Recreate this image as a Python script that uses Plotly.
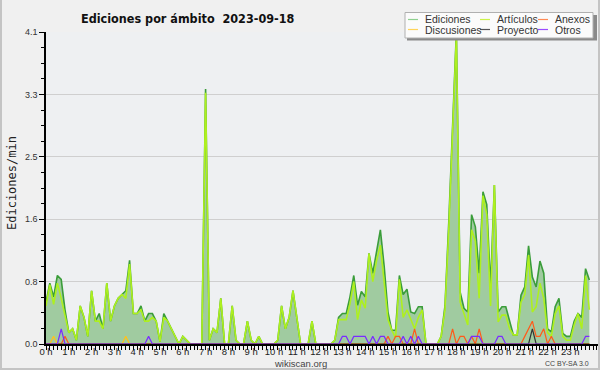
import plotly.graph_objects as go

# time of each 10-minute bin, in minutes after midnight
minutes = list(range(0, 1440, 10))
hours = [m / 60 for m in minutes]

ediciones = [0.55, 0.8, 0.62, 0.9, 0.85, 0.45, 0.15, 0.2, 0.05, 0.5, 0.35, 0.1,
             0.7, 0.3, 0.4, 0.2, 0.8, 0.3, 0.5, 0.6, 0.65, 0.7, 1.1, 0.4,
             0.4, 0.5, 0.3, 0.4, 0.4, 0.3, 0.03, 0.4, 0.3, 0.2, 0.1, 0.0,
             0.1, 0.05, 0, 0, 0, 0, 3.35, 0.05, 0.2, 0.15, 0.6, 0.0,
             0.0, 0.5, 0.05, 0, 0, 0.3, 0.05, 0, 0.1, 0, 0, 0,
             0, 0.05, 0.5, 0.2, 0.35, 0.7, 0.35, 0, 0, 0, 0.3, 0,
             0, 0, 0, 0, 0.05, 0.35, 0.4, 0.4, 0.62, 0.9, 0.51, 0.69,
             0.62, 1.19, 0.93, 1.19, 1.5, 1.02, 0.42, 0.18, 0.18, 0.9, 0.65, 0.72,
             0.42, 0.4, 0.49, 0.49, 0, 0, 0, 0, 0.1, 0.5, 1.6, 2.9,
             4.1, 0.68, 0.47, 0.42, 1.7, 1.54, 0.93, 2.0, 1.83, 0.75, 2.09, 0.42,
             0.49, 0.49, 0.29, 0.12, 0.12, 0.64, 0.75, 1.29, 0.88, 0.75, 1.09, 0.93,
             0.2, 0.16, 0.49, 0.6, 0.14, 0.1, 0.1, 0.3, 0.4, 0.35, 0.99, 0.84]

articulos = [0.5, 0.78, 0.52, 0.8, 0.6, 0.35, 0.15, 0.2, 0.05, 0.5, 0.35, 0.1,
             0.7, 0.3, 0.3, 0.2, 0.8, 0.3, 0.5, 0.6, 0.65, 0.6, 1.05, 0.4,
             0.4, 0.45, 0.3, 0.3, 0.35, 0.3, 0.03, 0.35, 0.3, 0.2, 0.1, 0.0,
             0.1, 0.05, 0, 0, 0, 0, 3.3, 0.05, 0.2, 0.15, 0.6, 0.0,
             0.0, 0.5, 0.05, 0, 0, 0.3, 0.05, 0, 0.1, 0, 0, 0,
             0, 0.05, 0.5, 0.2, 0.35, 0.7, 0.35, 0, 0, 0, 0.3, 0,
             0, 0, 0, 0, 0.05, 0.32, 0.32, 0.32, 0.53, 0.82, 0.32, 0.58,
             0.47, 1.19, 0.82, 1.1, 1.3, 0.84, 0.32, 0.18, 0.08, 0.85, 0.35, 0.45,
             0.32, 0.2, 0.35, 0.45, 0, 0, 0, 0, 0.1, 0.45, 1.5, 2.8,
             4.05, 0.55, 0.4, 0.25, 1.5, 1.35, 0.6, 1.95, 1.7, 0.5, 2.09, 0.29,
             0.38, 0.38, 0.2, 0.12, 0.12, 0.55, 0.65, 1.17, 0.42, 0.49, 0.8, 0.6,
             0.15, 0.1, 0.4, 0.5, 0.1, 0.05, 0.05, 0.25, 0.4, 0.2, 0.9, 0.45]

discusiones = [0.0] * 144
for k, v in {2: 0.1, 21: 0.1}.items():
    discusiones[k] = v

anexos = [0.0] * 144
for k, v in {5: 0.1, 90: 0.1, 92: 0.1, 93: 0.1, 97: 0.2, 107: 0.2, 109: 0.1,
             110: 0.1, 112: 0.1, 114: 0.2, 126: 0.1, 127: 0.2, 128: 0.3,
             129: 0.1, 130: 0.1, 131: 0.2, 133: 0.1}.items():
    anexos[k] = v

proyecto = [0.0] * 144
for k, v in {128: 0.2}.items():
    proyecto[k] = v

otros = [0.0] * 144
for k, v in {4: 0.2, 27: 0.1, 78: 0.1, 79: 0.1, 81: 0.1, 82: 0.1, 83: 0.1,
             84: 0.1, 86: 0.1, 88: 0.1, 89: 0.1, 94: 0.1, 96: 0.1, 98: 0.1,
             112: 0.1, 113: 0.1, 114: 0.1, 119: 0.1, 120: 0.1, 142: 0.1,
             143: 0.1}.items():
    otros[k] = v

hour_ticks = list(range(24))
hour_labels = [f"{h} h" for h in hour_ticks]
y_ticks = [0, 0.82, 1.64, 2.46, 3.28, 4.1]
y_labels = ["0.0", "0.8", "1.6", "2.5", "3.3", "4.1"]

series_names = ["Ediciones", "Artículos", "Anexos", "Discusiones", "Proyecto", "Otros"]
legend_colors = ["#8fd08f", "#ccf24a", "#ff8a55", "#ffd45a", "#555555", "#9a4cff"]

W, H = 600, 370
L, R, T, B = 46, 0, 32, 26
PW, PH = W - L - R, H - T - B


def px(x):
    return (x - L) / PW


def py(y):
    return (H - B - y) / PH


fig = go.Figure()
fig.add_trace(go.Scatter(x=hours, y=ediciones, mode="lines", name="Ediciones",
                         line=dict(color="#3a9d3a", width=1.6),
                         fill="tozeroy", fillcolor="#a0cba0"))
fig.add_trace(go.Scatter(x=hours, y=articulos, mode="lines", name="Artículos",
                         line=dict(color="#aef01e", width=1.6)))
fig.add_trace(go.Scatter(x=hours, y=discusiones, mode="lines", name="Discusiones",
                         line=dict(color="#ffc21a", width=1.2)))
fig.add_trace(go.Scatter(x=hours, y=anexos, mode="lines", name="Anexos",
                         line=dict(color="#ff5a1a", width=1.2)))
fig.add_trace(go.Scatter(x=hours, y=proyecto, mode="lines", name="Proyecto",
                         line=dict(color="#333333", width=1.2)))
fig.add_trace(go.Scatter(x=hours, y=otros, mode="lines", name="Otros",
                         line=dict(color="#7a2cff", width=1.2)))

shapes = []
annotations = []

# legend box with shadow
shapes.append(dict(type="rect", xref="paper", yref="paper",
                   x0=px(407), x1=px(597), y0=py(40.5), y1=py(15),
                   fillcolor="#8a8a8a", line=dict(width=0), layer="above"))
shapes.append(dict(type="rect", xref="paper", yref="paper",
                   x0=px(405), x1=px(593), y0=py(38), y1=py(12.5),
                   fillcolor="#fbfbfb", line=dict(color="#b0b0b0", width=1),
                   layer="above"))
legend_pos = [(408, 19.5), (480, 19.5), (538, 19.5),
              (408, 29.5), (480, 29.5), (538, 29.5)]
for name, col, (lx, ly) in zip(series_names, legend_colors, legend_pos):
    shapes.append(dict(type="line", xref="paper", yref="paper",
                       x0=px(lx), x1=px(lx + 10), y0=py(ly), y1=py(ly),
                       line=dict(color=col, width=1.2), layer="above"))
    annotations.append(dict(x=px(lx + 15), y=py(ly), xref="paper", yref="paper",
                            text=name, showarrow=False, xanchor="left",
                            yanchor="middle",
                            font=dict(family="Liberation Sans", size=10.5, color="#333333")))

# outer border (left, bottom, right)
for x0, y0, x1, y1 in [(1, 0, 1, 369), (0, 369, 600, 369), (599, 0, 599, 369)]:
    shapes.append(dict(type="line", xref="paper", yref="paper",
                       x0=px(x0), x1=px(x1), y0=py(y0), y1=py(y1),
                       line=dict(color="#c4c4c4", width=2), layer="above"))

annotations.append(dict(x=px(188), y=py(19), xref="paper", yref="paper",
                        text="<b>Ediciones por ámbito  2023-09-18</b>", showarrow=False,
                        xanchor="center", yanchor="middle",
                        font=dict(family="DejaVu Sans Condensed", size=12.5, color="#111111")))
annotations.append(dict(x=px(12), y=py(183), xref="paper", yref="paper",
                        text="Ediciones/min", showarrow=False, textangle=-90,
                        xanchor="center", yanchor="middle",
                        font=dict(family="DejaVu Sans Mono", size=12, color="#222222")))
annotations.append(dict(x=px(300), y=py(363.5), xref="paper", yref="paper",
                        text="wikiscan.org", showarrow=False,
                        xanchor="center", yanchor="middle",
                        font=dict(family="Liberation Sans", size=9.5, color="#444444")))
annotations.append(dict(x=px(591), y=py(363.5), xref="paper", yref="paper",
                        text="CC BY-SA 3.0", showarrow=False,
                        xanchor="right", yanchor="middle",
                        font=dict(family="Liberation Sans", size=7, color="#444444")))

fig.update_layout(
    width=W, height=H,
    margin=dict(l=L, r=R, t=T, b=B, pad=0),
    paper_bgcolor="#f0f0f0",
    plot_bgcolor="#eef0f2",
    showlegend=False,
    shapes=shapes,
    annotations=annotations,
    xaxis=dict(range=[0, 24.3], tickvals=hour_ticks, ticktext=hour_labels,
               tickangle=0, ticklabelstandoff=-6,
               ticks="outside", ticklen=4, tickwidth=1, tickcolor="#000000",
               showline=True, linecolor="#000000", linewidth=2,
               showgrid=False, zeroline=False,
               tickfont=dict(family="Liberation Sans", size=9.5, color="#222222"),
               minor=dict(dtick=1 / 6, tick0=0, ticks="outside", ticklen=4,
                          tickwidth=1, tickcolor="#000000", showgrid=False)),
    yaxis=dict(range=[0, 4.1], tickvals=y_ticks, ticktext=y_labels,
               ticks="outside", ticklen=5, tickwidth=1, tickcolor="#000000",
               showline=True, linecolor="#000000", linewidth=1.5,
               showgrid=True, gridcolor="#cfcfcf", gridwidth=1, zeroline=False,
               tickfont=dict(family="Liberation Sans", size=9, color="#333333"),
               minor=dict(dtick=0.205, tick0=0, ticks="outside", ticklen=3,
                          tickwidth=1, tickcolor="#000000", showgrid=False)),
)

fig.write_html("out.html",
               config={"displayModeBar": False},
               post_script="document.body.style.margin='0';"
                           "document.body.style.overflow='hidden';"
                           "document.body.style.background='#f0f0f0';")
